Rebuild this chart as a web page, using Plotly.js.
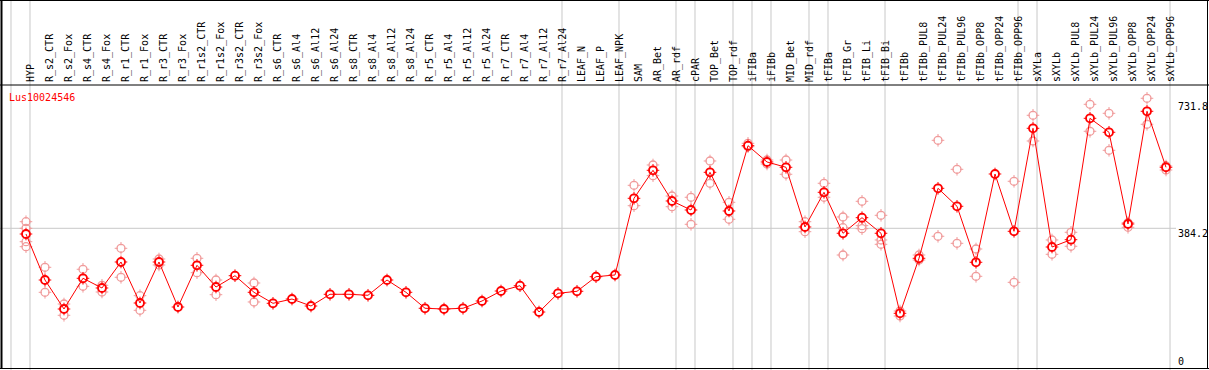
<!DOCTYPE html>
<html><head><meta charset="utf-8">
<script src="https://cdn.plot.ly/plotly-3.0.1.min.js"></script>
<style>html,body{margin:0;padding:0;background:#fff;}#chart{width:1209px;height:370px;}</style>
</head><body><div id="chart"></div>
<script>
const geneName = "Lus10024546";
const categories = ["HYP","R_s2_CTR","R_s2_Fox","R_s4_CTR","R_s4_Fox","R_r1_CTR","R_r1_Fox","R_r3_CTR","R_r3_Fox","R_r1s2_CTR","R_r1s2_Fox","R_r3s2_CTR","R_r3s2_Fox","R_s6_CTR","R_s6_Al4","R_s6_Al12","R_s6_Al24","R_s8_CTR","R_s8_Al4","R_s8_Al12","R_s8_Al24","R_r5_CTR","R_r5_Al4","R_r5_Al12","R_r5_Al24","R_r7_CTR","R_r7_Al4","R_r7_Al12","R_r7_Al24","LEAF_N","LEAF_P","LEAF_NPK","SAM","AR_Bet","AR_rdf","cPAR","TOP_Bet","TOP_rdf","iFIBa","iFIBb","MID_Bet","MID_rdf","tFIBa","tFIB_Gr","tFIB_Li","tFIB_Bi","tFIBb","tFIBb_PUL8","tFIBb_PUL24","tFIBb_PUL96","tFIBb_OPP8","tFIBb_OPP24","tFIBb_OPP96","sXYLa","sXYLb","sXYLb_PUL8","sXYLb_PUL24","sXYLb_PUL96","sXYLb_OPP8","sXYLb_OPP24","sXYLb_OPP96"];
const meanValues = [368.6,243.0,163.8,247.7,221.2,292.2,180.2,292.2,169.3,283.2,223.9,254.8,209.4,179.4,191.1,172.0,204.0,204.0,201.3,243.0,209.4,165.8,163.8,165.8,185.7,213.0,227.5,155.6,206.7,212.2,252.0,256.7,466.1,542.6,458.8,434.2,537.1,431.5,609.8,565.3,550.8,387.8,482.5,370.6,413.2,370.6,152.1,302.3,493.4,444.3,291.4,532.5,376.0,657.3,333.1,353.1,684.6,646.4,396.0,703.7,550.8];
const rep1 = [402.2,277.7,177.5,272.3,228.6,329.6,200.2,300.4,null,302.3,243.0,null,234.8,null,null,null,null,null,null,null,null,null,null,null,null,null,null,null,null,null,null,null,501.6,557.1,472.4,468.9,568.0,455.2,616.3,570.7,570.7,402.2,507.1,415.1,457.9,419.7,158.4,311.3,624.5,545.3,327.7,null,512.6,692.8,352.3,373.3,722.8,698.2,386.9,739.2,543.4];
const rep2 = [384.2,209.4,146.6,225.8,210.3,250.4,160.3,284.0,null,263.0,202.9,null,183.0,null,null,null,null,null,null,null,null,null,null,null,null,null,null,null,null,null,null,null,445.9,527.9,443.2,395.1,507.1,408.8,607.0,559.8,531.7,374.9,468.9,385.8,391.3,352.3,144.7,297.6,362.4,343.2,253.1,null,236.7,622.6,313.2,335.1,649.1,597.2,399.5,668.2,554.3];
const rep3 = [347.6,null,null,null,null,null,null,null,null,null,null,null,null,null,null,null,null,null,null,null,null,null,null,null,null,null,null,null,null,null,null,null,null,null,null,null,null,null,null,null,null,null,null,311.3,383.1,340.5,null,null,null,null,null,null,null,null,null,null,null,null,null,null,null];
const rep4 = [334.0,null,null,null,null,null,null,null,null,null,null,null,null,null,null,null,null,null,null,null,null,null,null,null,null,null,null,null,null,null,null,null,null,null,null,null,null,null,null,null,null,null,null,null,null,null,null,null,null,null,null,null,null,null,null,null,null,null,null,null,null];
const groupEnds = [-1,0,28,31,34,35,37,38,39,41,42,45,52,53,60];
const refLineValue = 384.2;
const scaleLabels = ["731.8","384.2","0"];
const scaleValues = [731.8,384.2,0];

const W = 1209, H = 370, T = 85;
const xr = [-1.368, 62.263];
const yr = [-2.73, 775.5];
const toPx = x => (x - xr[0]) / (xr[1] - xr[0]);
const topPaper = H / (H - T);
const mono = "DejaVu Sans Mono, Liberation Mono, monospace";
const red = "#ff0000", pink = "rgb(240,155,155)", grey = "#c8c8c8";

const base = {x: categories, type: "scatter", hoverinfo: "skip", showlegend: false};
const tickTrace = (ys, col) => Object.assign({}, base, {y: ys, mode: "markers",
  marker: {symbol: "cross-thin-open", size: 9, color: col, line: {width: 1, color: col}}});
const diskTrace = (ys) => Object.assign({}, base, {y: ys, mode: "markers",
  marker: {symbol: "circle", size: 6, color: "#fff", line: {width: 0}}});
const ringTrace = (ys, col, w, withLine) => Object.assign({}, base, {y: ys, mode: withLine ? "lines+markers" : "markers",
  line: {color: col, width: 1},
  marker: {symbol: "circle-open", size: 8, color: col, line: {width: w, color: col}}});

const reps = [rep1, rep2, rep3, rep4];
const traces = [];
reps.forEach(r => traces.push(tickTrace(r, pink)));
reps.forEach(r => traces.push(diskTrace(r)));
reps.forEach(r => traces.push(ringTrace(r, pink, 1.3, false)));
traces.push(tickTrace(meanValues, red));
traces.push(diskTrace(meanValues));
traces.push(ringTrace(meanValues, red, 1.8, true));

const shapes = [];
groupEnds.forEach(i => {
  const xp = toPx(i + 4/19);
  shapes.push({type: "line", xref: "paper", yref: "paper", x0: xp, x1: xp, y0: 0, y1: topPaper,
    line: {color: grey, width: 1}, layer: "below"});
});
shapes.push({type: "line", xref: "paper", yref: "y", x0: 0, x1: 1176/W, y0: refLineValue, y1: refLineValue,
  line: {color: grey, width: 1}, layer: "below"});
const fx0 = 1.5/W, fx1 = 1207.5/W, fyTop = (H - 0.5)/(H - T), fyBot = 1.5/(H - T), fyMid = 1;
shapes.push({type: "line", xref: "paper", yref: "paper", x0: 0, x1: 1, y0: fyTop, y1: fyTop, line: {color: "#000", width: 1}});
shapes.push({type: "line", xref: "paper", yref: "paper", x0: 0, x1: 1, y0: fyMid, y1: fyMid, line: {color: "#000", width: 1}});
shapes.push({type: "line", xref: "paper", yref: "paper", x0: 0, x1: 1, y0: fyBot, y1: fyBot, line: {color: "#000", width: 1}});
shapes.push({type: "line", xref: "paper", yref: "paper", x0: fx0, x1: fx0, y0: fyBot, y1: fyTop, line: {color: "#000", width: 2}});
shapes.push({type: "line", xref: "paper", yref: "paper", x0: fx1, x1: fx1, y0: fyBot, y1: fyTop, line: {color: "#000", width: 1}});

const annotations = [{xref: "paper", yref: "paper", x: 8/W, y: (H - 97)/(H - T), xanchor: "left", yanchor: "middle",
  text: geneName, showarrow: false, font: {family: mono, size: 10, color: red}, borderpad: 0}];
scaleLabels.forEach((t, k) => {
  annotations.push({xref: "paper", yref: "y", x: 1177/W, y: scaleValues[k], xanchor: "left", yanchor: "middle",
    yshift: scaleValues[k] === 0 ? 8 : -5, text: t, showarrow: false, font: {family: mono, size: 10, color: "#000"}, borderpad: 0});
});

const layout = {
  width: W, height: H, margin: {l: 0, r: 0, t: T, b: 0},
  paper_bgcolor: "#fff", plot_bgcolor: "#fff", showlegend: false, hovermode: false,
  xaxis: {type: "category", range: xr, side: "top", tickangle: -90, ticks: "", showgrid: false, zeroline: false,
    showline: false, automargin: false, ticklabelshift: 5, ticklabelstandoff: 2,
    tickfont: {family: mono, size: 10, color: "#000"}, fixedrange: true},
  yaxis: {range: yr, showgrid: false, zeroline: false, showticklabels: false, ticks: "", showline: false, fixedrange: true},
  shapes: shapes, annotations: annotations
};
Plotly.newPlot("chart", traces, layout, {staticPlot: true, displayModeBar: false});
</script></body></html>
